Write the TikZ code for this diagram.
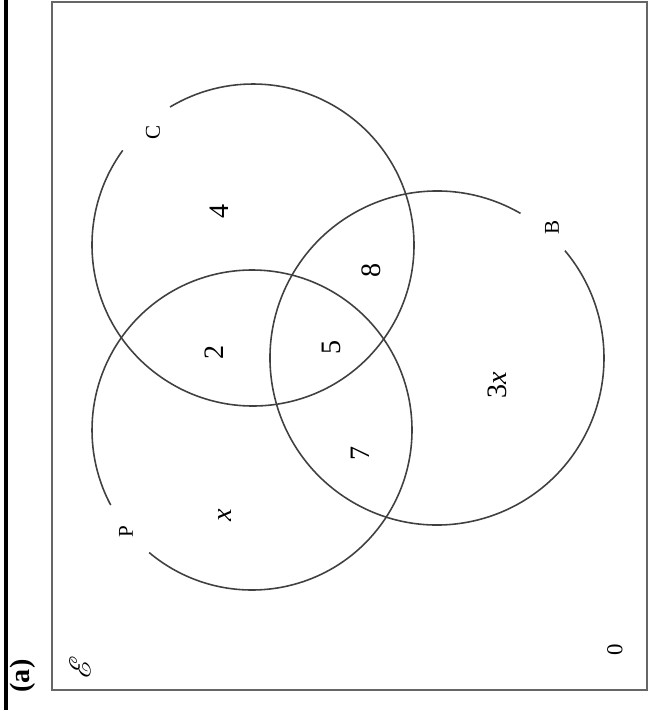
\documentclass[tikz,border=0pt]{standalone}
\usepackage{fontspec}
\setmainfont{Liberation Serif}
\usepackage{mathrsfs}
\usetikzlibrary{positioning}

\begin{document}
\begin{tikzpicture}[x=0.02cm, y=0.02cm,
  ring/.style={line width=0.9pt, black!75},
  frame/.style={line width=1.1pt, black!60},
  setname/.style={font=\fontsize{12}{14}\selectfont, rotate=90, inner sep=1pt},
  count/.style={font=\fontsize{16}{18}\selectfont, rotate=90, inner sep=1pt},
]
\useasboundingbox (0,0) rectangle (649,-713);

% outer rule and universal set box
\draw[line width=2pt] (6,0) -- (6,-710);
\draw[frame] (52,-2) rectangle (647,-690);

% circle centres
\coordinate (cC) at (253,-245);
\coordinate (cP) at (252,-430);
\coordinate (cB) at (437,-358);

% circles, each with a gap for its name
\draw[ring] ([shift={(144:161)}]cC) arc[start angle=144, end angle=481, radius=161];
\draw[ring] ([shift={(230:160)}]cP) arc[start angle=230, end angle=568, radius=160];
\draw[ring] ([shift={(60:167)}]cB) arc[start angle=60, end angle=400, radius=167];

\node[setname] (nameC) at (153,-132) {C};
\node[setname] (nameP) at (126,-532) {P};
\node[setname] (nameB) at (552,-227) {B};

% region counts
\node[count] (onlyC)  at (219,-211) {4};
\node[count] (CP)     at (214,-352) {2};
\node[count] (CPB)    at (331,-347) {5};
\node[count] (CB)     at (371,-270) {8};
\node[count] (PB)     at (360,-453) {7};
\node[count] (onlyP)  at (225,-515) {\textit{x}};
\node[count] (onlyB)  at (497,-385) {3\textit{x}};
\node[count, font=\fontsize{13}{15}\selectfont] (outside) at (615,-650) {0};

\node[rotate=90, font=\fontsize{17}{19}\selectfont] (univ) at (80,-667) {$\mathscr{E}$};
\node[rotate=90, font=\fontsize{16}{18}\selectfont\bfseries] (part) at (23,-676) {(a)};
\end{tikzpicture}
\end{document}
